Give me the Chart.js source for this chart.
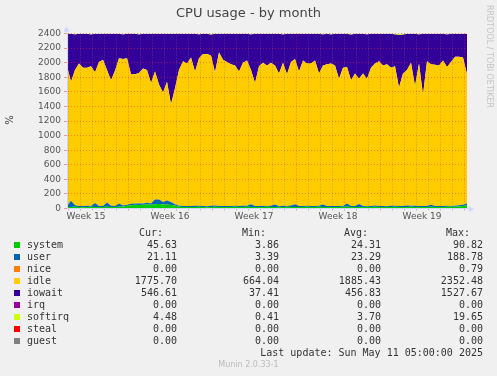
<!DOCTYPE html>
<html>
<head>
<meta charset="utf-8">
<script src="https://cdn.jsdelivr.net/npm/chart.js@4"></script>
<style>
body{margin:0;background:#f0f0f0;}
#wrap{position:relative;width:497px;height:376px;overflow:hidden;color:#333;}
#chart{position:absolute;left:0;top:0;}
.mono{position:absolute;white-space:pre;font-family:"DejaVu Sans Mono",monospace;font-size:10px;line-height:12px;}
.sq{position:absolute;width:6px;height:6px;}
#title{position:absolute;left:0;width:497px;top:5px;text-align:center;font-family:"DejaVu Sans",sans-serif;font-size:13px;line-height:16px;color:#444;}
#vlabel{position:absolute;left:4px;top:114px;width:12px;height:12px;font-family:"DejaVu Sans",sans-serif;font-size:10px;line-height:12px;text-align:center;transform:rotate(-90deg);color:#444;}
#rrd{position:absolute;left:484px;top:5px;writing-mode:vertical-rl;font-family:"DejaVu Sans",sans-serif;font-size:8px;line-height:10px;color:#c4c4c4;}
#munin{position:absolute;left:0;width:497px;top:360px;text-align:center;font-family:"DejaVu Sans",sans-serif;font-size:8px;line-height:10px;color:#bbb;}
</style>
</head>
<body>
<div id="wrap">
  <canvas id="chart" width="497" height="376"></canvas>
  <div id="title">CPU usage - by month</div>
  <div id="vlabel">%</div>
  <div id="rrd">RRDTOOL / TOBI OETIKER</div>
  <div id="legend"></div>
  <div id="munin">Munin 2.0.33-1</div>
</div>
<script>
// samples every 8 hours, first one 2h before a midnight
var sampleHours = 8;
var firstMidnight = 2;
var firstMonday = 122;
var weekLabels = ['Week 15', 'Week 16', 'Week 17', 'Week 18', 'Week 19'];

var system = [
  20,22,24,20,18,21,23,19,20,22,
  25,21,19,23,26,38,45,50,48,52,
  55,50,58,62,60,55,48,40,24,20,
  22,19,21,23,20,18,22,24,21,20,
  19,22,23,20,21,24,22,19,20,21,
  23,22,20,18,21,24,22,20,19,21,
  23,20,22,24,21,19,20,22,21,23,
  25,22,20,19,21,23,22,24,20,21,
  19,22,23,21,20,22,24,21,20,19,
  22,23,21,20,22,24,23,25,28,35,
  46
];
var user = [
  15,85,20,14,18,16,12,55,16,14,
  58,18,15,45,16,14,20,18,22,16,
  25,20,65,60,30,55,40,20,14,16,
  12,15,18,14,16,13,15,17,14,16,
  15,12,14,16,18,13,38,15,14,16,
  12,15,35,14,16,12,18,38,15,13,
  16,14,12,15,35,14,16,13,15,12,
  45,14,16,42,15,13,12,16,14,15,
  13,16,14,12,15,18,14,16,13,15,
  12,28,14,16,13,15,12,14,16,18,
  21
];
var idle = [
  1915,1633,1856,1956,1894,1893,1915,1796,1974,2004,
  1817,1721,1856,1992,2008,2008,1775,1772,1790,1852,
  1820,1650,1757,1578,1500,1630,1342,1590,1862,1984,
  1956,2036,1841,2023,2084,2089,2063,1829,2105,2004,
  1976,1946,1923,1844,1961,1993,1840,1686,1916,1963,
  1925,1963,1905,1818,1963,1804,1970,1992,1846,1996,
  1951,1956,1996,1811,1904,1947,1954,1925,1744,1895,
  1870,1724,1814,1719,1814,1744,1896,1950,1986,1924,
  1948,1892,1913,1627,1815,1860,1962,1643,1957,1526,
  1986,1929,1935,1924,1995,1901,1975,2041,2036,2017,
  1773
];
var iowait = [
  446,657,488,406,465,467,436,526,387,356,
  497,636,505,337,338,336,557,556,525,476,
  497,676,517,695,806,657,966,747,496,375,
  407,326,517,328,276,275,284,526,257,356,
  386,417,435,516,397,366,488,676,447,396,
  435,397,436,546,386,557,386,345,517,366,
  407,406,365,547,425,416,397,437,616,465,
  456,622,546,617,546,605,466,407,376,435,
  416,467,436,721,534,496,397,716,398,836,
  377,416,425,437,366,446,387,316,315,327,
  556
];
var softirq = [
  4,3,12,4,5,3,14,4,3,4,
  3,4,5,3,12,4,3,4,15,4,
  3,4,3,5,4,3,4,3,4,5,
  3,4,3,12,4,5,16,4,3,4,
  4,3,5,4,3,4,12,4,3,4,
  5,3,4,4,14,3,4,5,3,4,
  3,4,5,3,15,4,13,3,4,5,
  4,18,4,3,4,15,4,3,4,5,
  4,3,14,19,16,4,3,4,12,4,
  3,4,5,3,4,14,3,4,5,3,
  4
];

// legend table
var names = ['system', 'user', 'nice', 'idle', 'iowait', 'irq', 'softirq', 'steal', 'guest'];
var colors = ['#00CC00', '#0066B3', '#FF8000', '#FFCC00', '#330099', '#990099', '#CCFF00', '#FF0000', '#808080'];
var curVals = [45.63, 21.11, 0.00, 1775.70, 546.61, 0.00, 4.48, 0.00, 0.00];
var minVals = [3.86, 3.39, 0.00, 664.04, 37.41, 0.00, 0.41, 0.00, 0.00];
var avgVals = [24.31, 23.29, 0.00, 1885.43, 456.83, 0.00, 3.70, 0.00, 0.00];
var maxVals = [90.82, 188.78, 0.79, 2352.48, 1527.67, 0.00, 19.65, 0.00, 0.00];
var lastUpdate = 'Last update: Sun May 11 05:00:00 2025';

var hours = system.map(function(v, i) { return i * sampleHours; });

function colorOf(name) { return colors[names.indexOf(name)]; }

function area(name, data, fill) {
    return {
        label: name,
        data: data,
        fill: fill,
        backgroundColor: colorOf(name),
        borderColor: 'rgba(0,0,0,0)',
        borderWidth: 0,
        pointRadius: 0,
        tension: 0
    };
}

var minorGrid = 'rgba(120,120,120,0.45)';
var majorGrid = 'rgba(230,40,40,0.45)';
var axisColor = '#cfd6f8';

function isWeekCenter(v) { return (v - (firstMonday - 84)) % 168 === 0; }
function isWeekStart(v) { return (v - firstMonday) % 168 === 0; }

var axisArrows = {
    id: 'axisArrows',
    afterDraw: function(chart) {
        var a = chart.chartArea;
        var c = chart.ctx;
        c.save();
        c.fillStyle = axisColor;
        c.strokeStyle = axisColor;
        c.lineWidth = 1;
        c.beginPath();
        c.moveTo(a.left - 0.5, a.top);
        c.lineTo(a.left - 0.5, a.top - 3);
        c.moveTo(a.right, a.bottom + 0.5);
        c.lineTo(a.right + 2, a.bottom + 0.5);
        c.stroke();
        c.beginPath();
        c.moveTo(a.left - 0.5, a.top - 7);
        c.lineTo(a.left - 3.5, a.top - 2);
        c.lineTo(a.left + 2.5, a.top - 2);
        c.closePath();
        c.fill();
        c.beginPath();
        c.moveTo(a.right + 7, a.bottom + 0.5);
        c.lineTo(a.right + 2, a.bottom - 2.5);
        c.lineTo(a.right + 2, a.bottom + 3.5);
        c.closePath();
        c.fill();
        c.restore();
    }
};

var tickFont = { family: 'DejaVu Sans', size: 9 };

new Chart(document.getElementById('chart'), {
    type: 'line',
    data: {
        labels: hours,
        datasets: [
            area('system', system, 'origin'),
            area('user', user, '-1'),
            area('idle', idle, '-1'),
            area('iowait', iowait, '-1'),
            area('softirq', softirq, '-1')
        ]
    },
    options: {
        responsive: false,
        animation: false,
        layout: { padding: { left: 0, right: 30, top: 33.5, bottom: 0 } },
        plugins: { legend: { display: false }, tooltip: { enabled: false }, title: { display: false } },
        scales: {
            x: {
                type: 'linear',
                min: 0,
                max: hours[hours.length - 1],
                afterFit: function(s) { s.height = 167.5; },
                afterBuildTicks: function(s) {
                    var t = [];
                    for (var h = firstMidnight; h <= s.max; h += 24) t.push({ value: h });
                    for (var w = 0; w < weekLabels.length; w++) t.push({ value: firstMonday - 84 + 168 * w });
                    t.sort(function(a, b) { return a.value - b.value; });
                    s.ticks = t;
                },
                ticks: {
                    autoSkip: false,
                    maxRotation: 0,
                    padding: 1,
                    font: tickFont,
                    color: '#555',
                    callback: function(v) {
                        if (isWeekCenter(v)) return weekLabels[(v - (firstMonday - 84)) / 168];
                        return '';
                    }
                },
                grid: {
                    z: 1,
                    tickLength: 2,
                    color: function(ctx) {
                        var v = ctx.tick.value;
                        if (isWeekCenter(v)) return 'rgba(0,0,0,0)';
                        return isWeekStart(v) ? majorGrid : minorGrid;
                    },
                    tickColor: function(ctx) {
                        var v = ctx.tick.value;
                        if (isWeekCenter(v)) return 'rgba(0,0,0,0)';
                        return isWeekStart(v) ? majorGrid : minorGrid;
                    }
                },
                border: { z: 2, color: axisColor, dash: [1, 2] }
            },
            y: {
                stacked: true,
                min: 0,
                max: 2400,
                afterFit: function(s) { s.width = 67; },
                ticks: {
                    stepSize: 100,
                    padding: 3,
                    font: tickFont,
                    color: '#555',
                    callback: function(v) { return v % 200 === 0 ? v : ''; }
                },
                grid: {
                    z: 1,
                    tickLength: 3,
                    color: function(ctx) { return ctx.tick.value % 200 === 0 ? majorGrid : minorGrid; },
                    tickColor: function(ctx) { return ctx.tick.value % 200 === 0 ? majorGrid : minorGrid; }
                },
                border: { z: 2, color: axisColor, dash: [1, 2] }
            }
        }
    },
    plugins: [axisArrows]
});

// munin style legend with Cur/Min/Avg/Max columns
var legendBox = document.getElementById('legend');
function cell(text, y, left, right) {
    var d = document.createElement('div');
    d.className = 'mono';
    d.textContent = text;
    d.style.top = y + 'px';
    if (left !== null) d.style.left = left + 'px';
    else d.style.right = (497 - right) + 'px';
    legendBox.appendChild(d);
}
cell('Cur:', 227, null, 163);
cell('Min:', 227, null, 266);
cell('Avg:', 227, null, 368);
cell('Max:', 227, null, 470);
for (var i = 0; i < names.length; i++) {
    var rowTop = 238.5 + 12 * i;
    var sq = document.createElement('div');
    sq.className = 'sq';
    sq.style.left = '14px';
    sq.style.top = (rowTop + 3) + 'px';
    sq.style.background = colors[i];
    legendBox.appendChild(sq);
    cell(names[i], rowTop, 27, null);
    cell(curVals[i].toFixed(2), rowTop, null, 177);
    cell(minVals[i].toFixed(2), rowTop, null, 279);
    cell(avgVals[i].toFixed(2), rowTop, null, 381);
    cell(maxVals[i].toFixed(2), rowTop, null, 483);
}
cell(lastUpdate, 238.5 + 12 * 9, null, 483);
</script>
</body>
</html>
